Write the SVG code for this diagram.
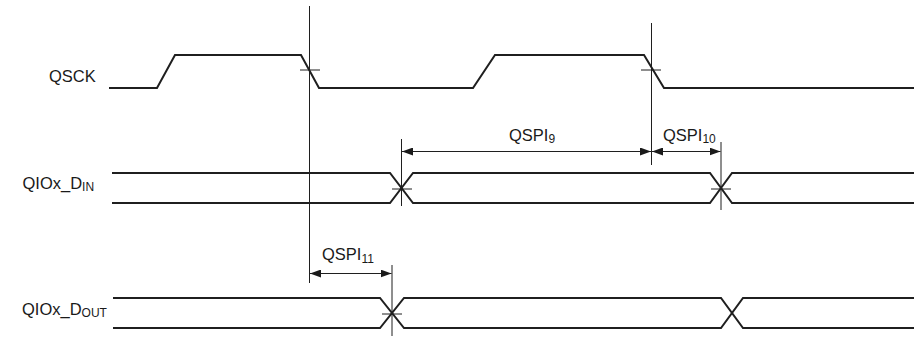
<svg xmlns="http://www.w3.org/2000/svg" width="914" height="337" viewBox="0 0 914 337">
<defs>
<marker id="ah" viewBox="0 0 11 8" refX="11" refY="4" markerWidth="11" markerHeight="8" markerUnits="userSpaceOnUse" orient="auto-start-reverse">
<path d="M0,0 L11,4 L0,8 z" fill="#1a1a1a"/>
</marker>
<style>
.sig{fill:none;stroke:#1f1f1f;stroke-width:2;stroke-linejoin:miter}
.ref{fill:none;stroke:#1f1f1f;stroke-width:1}
.dim{fill:none;stroke:#1f1f1f;stroke-width:1;marker-start:url(#ah);marker-end:url(#ah)}
.lbl{font-family:"Liberation Sans",Arial,sans-serif;font-size:16.5px;fill:#1a1a1a}
.sub{font-size:12px}
</style>
</defs>
<rect width="914" height="337" fill="#fff"/>
<g id="labels">
<text class="lbl" x="49" y="82">QSCK</text>
<text class="lbl" x="22.5" y="188.5">QIOx_D<tspan class="sub" dy="2.5">IN</tspan></text>
<text class="lbl" x="22" y="314.5">QIOx_D<tspan class="sub" dy="2.5">OUT</tspan></text>
</g>
<g id="qsck">
<path class="sig" d="M109,88 H157 L175,55 H301 L319,88 H473 L495,55 H644 L664,88 H914"/>
</g>
<g id="din">
<path class="sig" d="M112,173 H390 L413,203 H710 L732,173 H914"/>
<path class="sig" d="M112,203 H390 L413,173 H710 L732,203 H914"/>
</g>
<g id="dout">
<path class="sig" d="M113,298 H380 L404,328 H721 L743,298 H914"/>
<path class="sig" d="M113,328 H380 L404,298 H721 L743,328 H914"/>
</g>
<g id="connectors">
<line class="ref" x1="309.5" y1="6" x2="309.5" y2="283"/>
<line class="ref" x1="300" y1="70" x2="320" y2="70"/>
<line class="ref" x1="651.5" y1="23" x2="651.5" y2="165"/>
<line class="ref" x1="641" y1="70" x2="661" y2="70"/>
<line class="ref" x1="401.5" y1="139" x2="401.5" y2="206"/>
<line class="ref" x1="392" y1="189" x2="412" y2="189"/>
<line class="ref" x1="721" y1="142" x2="721" y2="210"/>
<line class="ref" x1="711" y1="189" x2="731" y2="189"/>
<line class="ref" x1="392" y1="265" x2="392" y2="336"/>
<line class="ref" x1="382" y1="314" x2="402" y2="314"/>
<line class="dim" x1="402" y1="151.5" x2="651" y2="151.5"/>
<line class="dim" x1="652" y1="151.5" x2="720.5" y2="151.5"/>
<line class="dim" x1="310" y1="273.5" x2="391.5" y2="273.5"/>
</g>
<g id="dimlabels">
<text class="lbl" x="509" y="140.5">QSPI<tspan class="sub" dy="2.5">9</tspan></text>
<text class="lbl" x="663" y="140.5">QSPI<tspan class="sub" dy="2.5">10</tspan></text>
<text class="lbl" x="322" y="260">QSPI<tspan class="sub" dy="2.5">11</tspan></text>
</g>
</svg>
